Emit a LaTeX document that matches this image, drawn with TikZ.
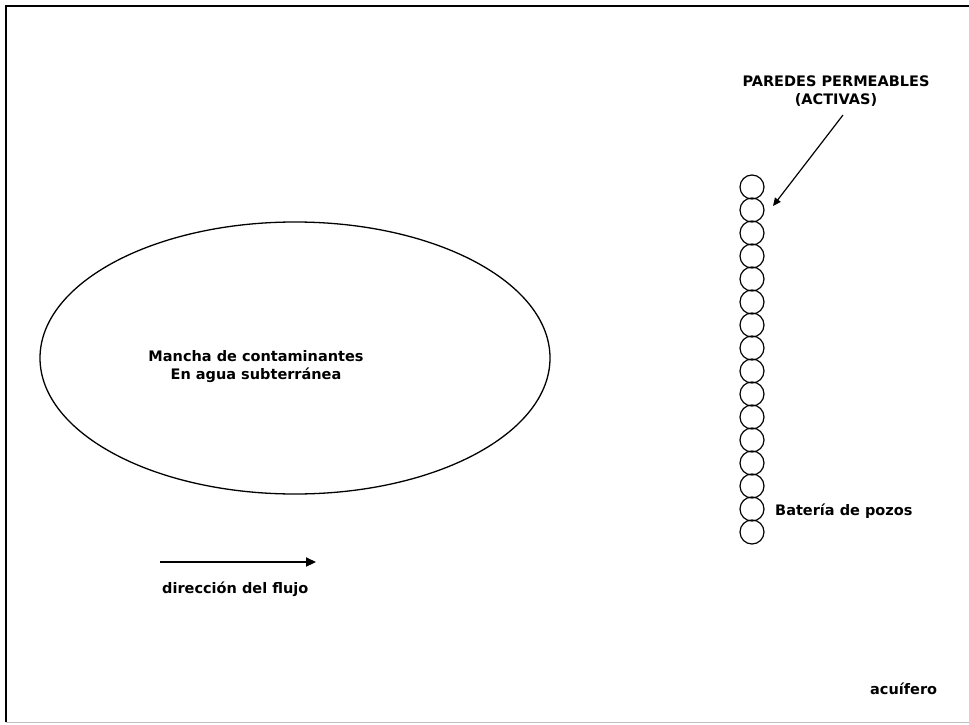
\documentclass[tikz,border=0pt]{standalone}
\usepackage{fontspec}
\setmainfont{DejaVu Sans}
\usetikzlibrary{arrows.meta}
\begin{document}
\begin{tikzpicture}[x=1pt,y=-1pt,
  lbl/.style={font=\bfseries\fontsize{14.5}{18}\selectfont, inner sep=0pt, align=center},
  well/.style={circle, draw, line width=1.2pt, minimum size=24pt, inner sep=0pt},
  conn/.style={line width=1.2pt, -{Triangle[length=8pt,width=7pt]}}]
\useasboundingbox (0,0) rectangle (969,725);
% frame
\draw[line width=1.5pt] (6,722) -- (6,6) -- (969,6);
\draw[line width=0.8pt, black!25] (6,722) -- (969,722);
% plume
\draw[line width=1.3pt] (295,358) ellipse [x radius=255, y radius=136];
\node[lbl] (plume) at (256,367) {Mancha de contaminantes\\En agua subterránea};
% flow arrow
\coordinate (fa) at (160,562);
\coordinate (fb) at (316,562);
\draw[line width=2.2pt, -{Triangle[length=10pt,width=9pt]}] (fa) -- (fb);
\node[lbl, anchor=west] (flow) at (162,589) {dirección del flujo};
% wells
\foreach \i in {0,...,15} {
  \node[well] (w\i) at (752,{187+23*\i}) {};
}
\node[lbl] (walls) at (836,91) {PAREDES PERMEABLES\\(ACTIVAS)};
\coordinate (ws) at (843,115);
\coordinate (we) at (773,206);
\draw[conn] (ws) -- (we);
\node[lbl, anchor=west] (bat) at (775,511) {Batería de pozos};
\node[lbl, anchor=west] (acu) at (870,689) {acuífero};
\end{tikzpicture}
\end{document}
